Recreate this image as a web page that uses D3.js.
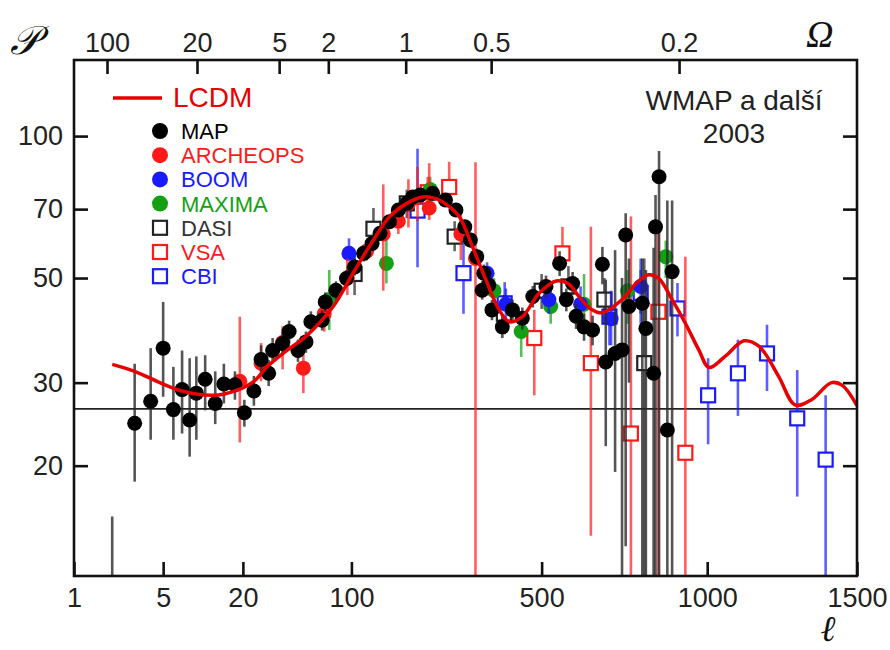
<!DOCTYPE html>
<html>
<head>
<meta charset="utf-8">
<script src="https://cdn.jsdelivr.net/npm/d3@7"></script>
<style>
  body { margin: 0; background: #fff; }
</style>
</head>
<body>
<div id="chart"></div>
<script>
// axis ticks
const ellTicks = [1, 5, 20, 100, 500, 1000, 1500];
const powerTicks = [20, 30, 50, 70, 100];
const angleLabels = ["100", "20", "5", "2", "1", "0.5", "0.2"];
const angleEll = [1.82, 9.1, 36, 74, 183, 368, 910];
const refLevel = 26.4;

// LCDM model curve
const lcdmEll = [2, 3, 5, 7, 12, 18, 24, 30, 40, 54, 79, 102, 130, 155, 185, 215, 240, 265, 293, 323, 355, 388, 414, 448, 493, 540, 575, 605, 640, 674, 733, 780, 815, 846, 888, 930, 973, 1006, 1058, 1120, 1170, 1235, 1290, 1345, 1413, 1450, 1500];
const lcdmPower = [32.8, 31.7, 29.8, 28.8, 28.2, 28.9, 30.2, 32.5, 35, 37.6, 43.5, 51.2, 60.2, 67.4, 72, 74.3, 73.8, 71.5, 67.4, 58.2, 49.6, 42.8, 40.4, 41.4, 46.4, 49.3, 48.6, 45.7, 43, 42.2, 45, 49, 50.8, 49.9, 45, 40.1, 35.2, 32.3, 34.1, 36.8, 35.8, 30.9, 26.9, 27.6, 30, 29.6, 26.8];

// measurements: [ell, value, low, high]
const mapData = [
  [2, 8, 3, 15.6], [3, 24.6, 18.5, 32.9], [4, 27.4, 22.7, 35.5], [5, 35.5, 28, 44.5],
  [6, 26.3, 22.7, 32.4], [7, 29, 23.4, 35.1], [8, 25, 20.9, 33.8], [9, 28.5, 22.7, 34.1],
  [10.5, 30.5, 26.2, 34.3], [12.5, 27.1, 24.5, 31.7], [14.5, 29.8, 27.1, 32.9], [17.5, 29.7, 27.6, 31.7],
  [20.5, 25.9, 24.2, 27.6], [24, 28.8, 26.8, 31], [27, 33.6, 31.5, 36], [30.5, 31.4, 29.5, 33.5],
  [32.5, 35.1, 33, 37.3], [38, 36.3, 34.3, 38.4], [42, 38.5, 36.4, 40.6], [48, 35.1, 33.2, 37],
  [54, 36.6, 34.7, 38.5], [58, 40.4, 38.4, 42.5], [68, 40.7, 38.7, 42.7], [71, 44.5, 42.4, 46.6],
  [82, 47.1, 45, 49.2], [94, 49.9, 47.8, 52], [104, 52.8, 50.6, 55], [116, 56.4, 54.2, 58.6],
  [128, 59.2, 57, 61.4], [140, 62.2, 60, 64.4], [155, 65.8, 63.5, 68], [170, 69.7, 67.4, 72],
  [185, 72, 69.7, 74.3], [196, 74.3, 72, 76.6], [210, 75, 72.7, 77.3], [235, 75.6, 73.3, 77.9],
  [262, 73.2, 70.9, 75.5], [285, 69.7, 67.4, 72], [305, 64.2, 62, 66.4], [318, 60.2, 58, 62.4],
  [333, 55.5, 53.3, 57.7], [346, 47.1, 45, 49.2], [350, 51.2, 49, 53.4], [362, 48.3, 46.2, 50.4],
  [370, 42.8, 40.7, 44.9], [396, 39.4, 37.3, 41.5], [422, 42.8, 40.6, 45], [448, 41.1, 38.9, 43.3],
  [476, 45.7, 43.3, 48.1], [512, 48, 45.4, 50.6], [550, 53.7, 50.5, 57], [569, 45, 42.5, 47.5],
  [587, 48.7, 46, 51.5], [597, 41.5, 39, 44], [620, 39.4, 36.8, 42], [645, 38.8, 36, 41.6],
  [674, 53.5, 48.5, 58.2], [684, 33.2, 22, 49.6], [712, 34.6, 19.4, 57.3], [733, 35.2, 5, 50],
  [744, 61.7, 13.5, 68.6], [754, 43.5, 30, 55], [795, 44.2, 5, 55], [806, 39.1, 5, 52],
  [830, 31.4, 5, 58], [836, 64.2, 5, 75], [847, 82, 5, 93], [873, 23.8, 5, 73], [888, 51.6, 5, 73]
];
const archeopsData = [
  [19, 30.2, 22.4, 41.4], [27, 33, 30.2, 36.4], [38, 36.5, 32, 39.5], [52, 32.2, 28.5, 36.4],
  [70, 42, 38.5, 46], [95, 50, 46, 55], [120, 57, 54.5, 60], [145, 62, 47, 79],
  [170, 66, 62, 71], [188, 72, 64, 81], [205, 74, 66, 86], [228, 70.4, 66.4, 87.6],
  [296, 62, 54.6, 69.7], [330, 55, 5, 88]
];
const boomData = [
  [97, 56.4, 54.6, 60.7], [358, 51.2, 48.5, 54], [405, 44, 40.5, 47.5], [520, 45, 42, 49],
  [610, 44, 40, 48], [700, 41, 36, 47], [790, 48, 42, 55]
];
const maximaData = [
  [75, 45, 38.8, 52], [150, 53.7, 48.7, 60.2], [230, 77, 72, 82], [375, 47, 44, 50],
  [445, 38.5, 34, 42], [525, 43.5, 40, 47.5], [620, 44, 38, 51], [750, 47, 40, 52], [868, 55.5, 50, 60]
];
const dasiData = [
  [104, 51, 46, 56], [130, 63.6, 58.2, 70.4], [185, 72, 67, 77], [282, 61.2, 57, 66],
  [400, 42, 39, 46], [500, 47, 43, 51], [575, 48, 44, 53], [680, 45, 40, 50], [801, 33, 5, 55]
];
const vsaData = [
  [225, 76, 70, 82], [270, 78, 75.6, 88.2], [480, 37.3, 28.2, 42.8], [558, 56.4, 52, 64.2],
  [640, 33, 14.2, 64.2], [760, 23.4, 5, 67.5], [845, 42.4, 5, 64], [930, 21.3, 5, 55.5]
];
const cbiData = [
  [205, 69.5, 52.7, 94], [302, 51.2, 42, 61.2], [402, 44.2, 38, 49], [695, 41.4, 36, 46],
  [790, 46.5, 40, 52], [905, 43.1, 37.6, 48.8], [1003, 28.2, 22.2, 33.8], [1100, 31.4, 25.5, 37],
  [1196, 34.6, 28.8, 39.8], [1297, 25.2, 17.2, 31.9], [1393, 20.6, 5, 28.2]
];

const experiments = [
  { name: "MAP", color: "#000", shape: "circle", data: mapData },
  { name: "ARCHEOPS", color: "#ff1a1a", shape: "circle", data: archeopsData },
  { name: "BOOM", color: "#1a1aff", shape: "circle", data: boomData },
  { name: "MAXIMA", color: "#14a014", shape: "circle", data: maximaData },
  { name: "DASI", color: "#222", shape: "square", data: dasiData },
  { name: "VSA", color: "#ff1a1a", shape: "square", data: vsaData },
  { name: "CBI", color: "#1a1aff", shape: "square", data: cbiData }
];
// drawing order: MAP goes last so its points sit on top
const drawOrder = ["CBI", "VSA", "DASI", "MAXIMA", "BOOM", "ARCHEOPS", "MAP"];

const width = 890, height = 650;
const mLeft = 74, mRight = 857, mTop = 60, mBottom = 576;
const sans = "'Liberation Sans', Arial, sans-serif";

// multipole axis: log at low l, close to linear at high l
const xt = l => Math.log10(l) + l / 494;
const xs = d3.scaleLinear().domain([xt(1), xt(1500)]).range([mLeft, mRight]);
const x = l => xs(xt(l));
const y = d3.scaleLog().domain([11.67, 145]).range([mBottom, mTop]);

const svg = d3.select("#chart").append("svg")
  .attr("width", width).attr("height", height)
  .style("background", "#fff");

svg.append("clipPath").attr("id", "plot")
  .append("rect").attr("x", mLeft).attr("y", mTop)
  .attr("width", mRight - mLeft).attr("height", mBottom - mTop);

const plot = svg.append("g").attr("clip-path", "url(#plot)");

// reference line
plot.append("line")
  .attr("x1", mLeft).attr("x2", mRight)
  .attr("y1", y(refLevel)).attr("y2", y(refLevel))
  .attr("stroke", "#222").attr("stroke-width", 1.8);

// error bars + markers
drawOrder.forEach(name => {
  const ex = experiments.find(e => e.name === name);
  const g = plot.append("g");
  const isMap = name === "MAP";
  g.selectAll("line.err")
    .data(ex.data)
    .join("line")
    .attr("class", "err")
    .attr("x1", d => x(d[0])).attr("x2", d => x(d[0]))
    .attr("y1", d => y(d[2])).attr("y2", d => y(d[3]))
    .attr("stroke", isMap ? "#2a2a2a" : ex.color)
    .attr("stroke-opacity", isMap ? 0.8 : 0.7)
    .attr("stroke-width", 2.6);
  if (ex.shape === "circle") {
    g.selectAll("circle")
      .data(ex.data)
      .join("circle")
      .attr("cx", d => x(d[0])).attr("cy", d => y(d[1]))
      .attr("r", 7.5)
      .attr("fill", ex.color);
  } else {
    g.selectAll("rect")
      .data(ex.data)
      .join("rect")
      .attr("x", d => x(d[0]) - 7).attr("y", d => y(d[1]) - 7)
      .attr("width", 14).attr("height", 14)
      .attr("fill", "#fff")
      .attr("stroke", ex.color)
      .attr("stroke-width", 2.2);
  }
});

// LCDM curve
const lcdm = lcdmEll.map((l, i) => [l, lcdmPower[i]]);
plot.append("path")
  .datum(lcdm)
  .attr("fill", "none")
  .attr("stroke", "#e60000")
  .attr("stroke-width", 3.5)
  .attr("d", d3.line().x(d => x(d[0])).y(d => y(d[1])).curve(d3.curveCatmullRom));

// frame
svg.append("rect")
  .attr("x", mLeft).attr("y", mTop)
  .attr("width", mRight - mLeft).attr("height", mBottom - mTop)
  .attr("fill", "none").attr("stroke", "#111").attr("stroke-width", 2.6);

// axes with inward ticks
function styleAxis(g) {
  g.select(".domain").remove();
  g.selectAll(".tick line").attr("stroke", "#111").attr("stroke-width", 2.6);
  g.selectAll("text").attr("font-family", sans).attr("font-size", 27).attr("fill", "#222");
}

svg.append("g")
  .attr("transform", `translate(0,${mBottom})`)
  .call(d3.axisBottom(xs)
    .tickValues(ellTicks.map(xt))
    .tickFormat((d, i) => ellTicks[i])
    .tickSizeInner(-14).tickSizeOuter(0).tickPadding(12))
  .call(styleAxis);

svg.append("g")
  .attr("transform", `translate(0,${mTop})`)
  .call(d3.axisTop(xs)
    .tickValues(angleEll.map(xt))
    .tickFormat((d, i) => angleLabels[i])
    .tickSizeInner(-14).tickSizeOuter(0).tickPadding(8))
  .call(styleAxis);

svg.append("g")
  .attr("transform", `translate(${mLeft},0)`)
  .call(d3.axisLeft(y)
    .tickValues(powerTicks)
    .tickFormat(d3.format("d"))
    .tickSizeInner(-14).tickSizeOuter(0).tickPadding(11))
  .call(styleAxis);

svg.append("g")
  .attr("transform", `translate(${mRight},0)`)
  .call(d3.axisRight(y)
    .tickValues(powerTicks)
    .tickFormat("")
    .tickSizeInner(-14).tickSizeOuter(0))
  .call(styleAxis);

// axis symbols
svg.append("text").attr("x", 10).attr("y", 54)
  .attr("font-family", "'DejaVu Serif', serif").attr("font-style", "italic")
  .attr("font-size", 40).attr("fill", "#111").text("𝒫");
svg.append("text").attr("x", 806).attr("y", 47)
  .attr("font-family", "'Liberation Serif', serif").attr("font-style", "italic")
  .attr("font-size", 38).attr("fill", "#111").text("Ω");
svg.append("text").attr("x", 821).attr("y", 641)
  .attr("font-family", "'DejaVu Serif', serif").attr("font-style", "italic").attr("font-weight", 700)
  .attr("font-size", 36).attr("fill", "#111").text("ℓ");

// legend
const legend = svg.append("g");
legend.append("line")
  .attr("x1", 113).attr("x2", 162).attr("y1", 98).attr("y2", 98)
  .attr("stroke", "#e60000").attr("stroke-width", 3.5);
legend.append("text").attr("x", 173).attr("y", 107)
  .attr("font-family", sans).attr("font-size", 28).attr("fill", "#e60000").text("LCDM");

const rows = legend.selectAll("g.row")
  .data(experiments)
  .join("g")
  .attr("class", "row")
  .attr("transform", (d, i) => `translate(160,${131 + i * 24.2})`);
rows.filter(d => d.shape === "circle").append("circle")
  .attr("r", 8).attr("fill", d => d.color);
rows.filter(d => d.shape === "square").append("rect")
  .attr("x", -7).attr("y", -7).attr("width", 14).attr("height", 14)
  .attr("fill", "#fff").attr("stroke", d => d.color).attr("stroke-width", 2.2);
rows.append("text")
  .attr("x", 21).attr("y", 8)
  .attr("font-family", sans).attr("font-size", 22)
  .attr("fill", d => d.name === "DASI" ? "#333" : d.color)
  .text(d => d.name);

// title
svg.append("text").attr("x", 734).attr("y", 110).attr("text-anchor", "middle")
  .attr("font-family", sans).attr("font-size", 28).attr("fill", "#222").text("WMAP a další");
svg.append("text").attr("x", 734).attr("y", 143).attr("text-anchor", "middle")
  .attr("font-family", sans).attr("font-size", 28).attr("fill", "#222").text("2003");
</script>
</body>
</html>
